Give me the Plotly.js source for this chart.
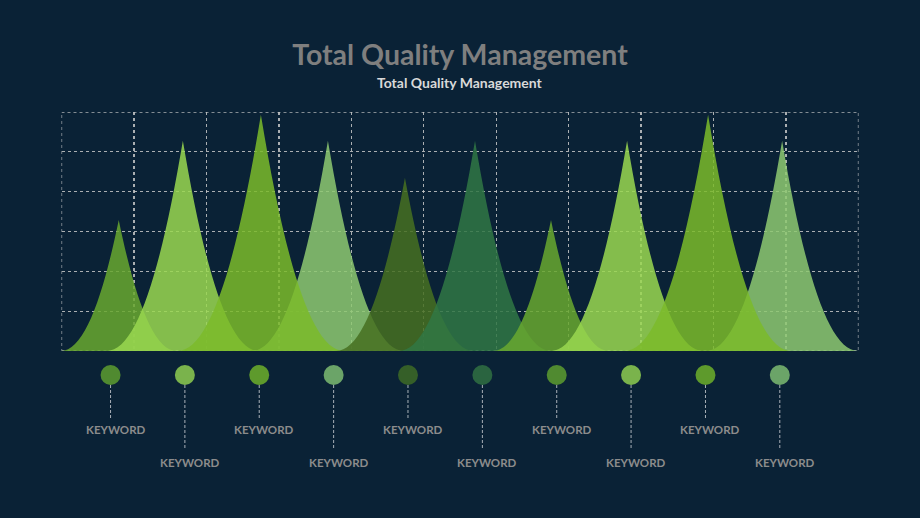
<!DOCTYPE html>
<html>
<head>
<meta charset="utf-8">
<script src="https://cdn.plot.ly/plotly-3.0.1.min.js"></script>
<style>
  html, body { margin: 0; padding: 0; background: #0a2236; }
  #chart { width: 920px; height: 518px; }
</style>
</head>
<body>
<div id="chart"></div>
<script>
// ---- data ----
const peakX      = [0.79, 1.675, 2.752, 3.677, 4.74, 5.707, 6.756, 7.806, 8.924, 9.946];
const peakHeight = [3.29, 5.28, 5.93, 5.28, 4.35, 5.28, 3.29, 5.28, 5.93, 5.28];
const halfWidth  = [0.80, 1.05, 1.15, 1.05, 0.95, 1.05, 0.80, 1.05, 1.15, 1.05];
const keywordX   = [0.677, 1.703, 2.729, 3.756, 4.782, 5.809, 6.835, 7.861, 8.888, 9.914];
const keywordLabels = ['KEYWORD','KEYWORD','KEYWORD','KEYWORD','KEYWORD','KEYWORD','KEYWORD','KEYWORD','KEYWORD','KEYWORD'];
const xGrid = [0,1,2,3,4,5,6,7,8,9,10,11];
const yGrid = [0,1,2,3,4,5,6];
const titleText = 'Total Quality Management';
const subtitleText = 'Total Quality Management';

// ---- styles ----
const spikeFill = ['rgba(104,168,47,0.85)','rgba(154,216,80,0.85)','rgba(123,187,42,0.85)','rgba(142,201,113,0.85)',
                   'rgba(71,112,33,0.85)','rgba(48,119,68,0.85)','rgba(104,168,47,0.85)','rgba(154,216,80,0.85)',
                   'rgba(123,187,42,0.85)','rgba(142,201,113,0.85)'];
const dotColors = ['#508a30','#7ab34c','#5e9a2c','#6ba468','#355f28','#2a6440','#508a30','#7ab34c','#5e9a2c','#6ba468'];
const drawOrder = [0,1,3,2,4,5,6,7,9,8];
const FONT = 'Lato, "Open Sans", "DejaVu Sans", sans-serif';
const GRID_COLOR = 'rgba(200,200,200,0.85)';
// y positions in the lower strip (pixels from the bottom of the figure)
const DOT_Y = 143, LINE_TOP = 133, SHORT_END = 100, LONG_END = 68, SHORT_LABEL = 89, LONG_LABEL = 56;
// bezier handles for the concave spike sides (fractions of half-width / height)
const H1X = 0.28, H1Y = 0.40, H2X = 0.60;

const xMax = xGrid[xGrid.length - 1], yMax = yGrid[yGrid.length - 1];

// ---- plot border (dotted, like the grid) ----
const shapes = [{
  type: 'rect', xref: 'x', yref: 'y', x0: 0, x1: xMax, y0: 0, y1: yMax,
  line: { color: GRID_COLOR, width: 1.3, dash: 'dot' }, fillcolor: 'rgba(0,0,0,0)', layer: 'below'
}];

// ---- spike shapes (cubic bezier in data coordinates) ----
drawOrder.forEach(i => {
  const c = peakX[i], h = peakHeight[i], w = halfWidth[i];
  const p = (x, y) => x.toFixed(4) + ',' + y.toFixed(4);
  const path = 'M ' + p(c - w, 0) +
    ' C ' + p(c - H2X * w, 0) + ' ' + p(c - H1X * w, H1Y * h) + ' ' + p(c, h) +
    ' C ' + p(c + H1X * w, H1Y * h) + ' ' + p(c + H2X * w, 0) + ' ' + p(c + w, 0) + ' Z';
  shapes.push({ type: 'path', xref: 'x', yref: 'y', path: path, fillcolor: spikeFill[i],
                line: { width: 0 }, layer: 'above' });
});

// ---- lower strip: dashed leaders, dots, labels ----
const lx = [], ly = [];
keywordX.forEach((x, i) => {
  lx.push(x, x, null);
  ly.push(LINE_TOP, i % 2 === 0 ? SHORT_END : LONG_END, null);
});
const leaders = {
  x: lx, y: ly, xaxis: 'x2', yaxis: 'y2', mode: 'lines', hoverinfo: 'skip',
  line: { color: '#a9b0b8', width: 1, dash: '3px,2px' }, showlegend: false
};
const dots = {
  x: keywordX, y: keywordX.map(() => DOT_Y), xaxis: 'x2', yaxis: 'y2', mode: 'markers',
  marker: { size: 20, color: dotColors, line: { width: 0 } }, text: keywordLabels,
  hoverinfo: 'text', showlegend: false
};
const peaks = {
  x: peakX, y: peakHeight, mode: 'markers', marker: { size: 1, opacity: 0 },
  hoverinfo: 'y', showlegend: false
};

const annotations = keywordLabels.map((t, i) => ({
  text: '<b>' + t + '</b>', xref: 'x2', yref: 'y2', x: keywordX[i], xshift: 5,
  y: i % 2 === 0 ? SHORT_LABEL : LONG_LABEL, showarrow: false,
  font: { family: FONT, size: 11.5, color: '#8c8c8c' }, xanchor: 'center', yanchor: 'middle'
}));
annotations.push({
  text: '<b>' + subtitleText + '</b>', xref: 'paper', yref: 'paper', x: 0.5, y: 1 - 82 / 518,
  showarrow: false, font: { family: FONT, size: 14, color: '#d9d9d9' }, xanchor: 'center', yanchor: 'middle'
});

const gridStyle = { showgrid: true, gridcolor: GRID_COLOR, gridwidth: 1.3, griddash: 'dot',
                    zeroline: false, showline: false, showticklabels: false, ticks: '', fixedrange: true };

const layout = {
  width: 920, height: 518,
  paper_bgcolor: '#0a2236', plot_bgcolor: '#0a2236',
  margin: { l: 0, r: 0, t: 0, b: 0 },
  title: { text: '<b>' + titleText + '</b>', x: 0.5, xanchor: 'center', y: 1 - 55 / 518, yanchor: 'middle',
           yref: 'container', font: { family: FONT, size: 28.5, color: '#7f7f7f' } },
  xaxis: Object.assign({}, gridStyle, { domain: [61.5 / 920, 858.5 / 920], range: [0, xMax], tickvals: xGrid }),
  yaxis: Object.assign({}, gridStyle, { domain: [(518 - 351) / 518, (518 - 112) / 518], range: [0, yMax], tickvals: yGrid }),
  xaxis2: { domain: [61.5 / 920, 858.5 / 920], range: [0, xMax], visible: false, fixedrange: true, anchor: 'y2' },
  yaxis2: { domain: [0, 0.3], range: [0, 155.4], visible: false, fixedrange: true, anchor: 'x2' },
  shapes: shapes,
  annotations: annotations,
  showlegend: false
};

Plotly.newPlot('chart', [peaks, leaders, dots], layout, { displayModeBar: false, staticPlot: true });
</script>
</body>
</html>
